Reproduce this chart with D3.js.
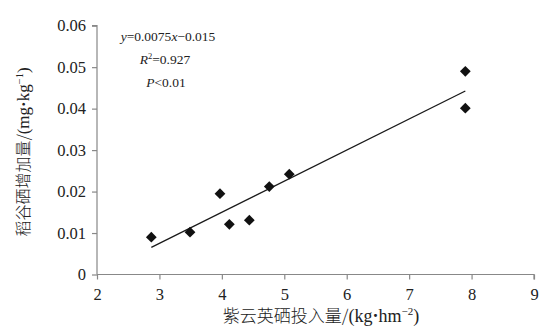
<!DOCTYPE html>
<html>
<head>
<meta charset="utf-8">
<script src="https://cdn.jsdelivr.net/npm/d3@7"></script>
<style>
  html, body { margin: 0; padding: 0; background: #fff; }
  svg { display: block; }
  .tick text { font-family: "Liberation Serif", "DejaVu Serif", serif; font-size: 16.5px; fill: #222; }
</style>
</head>
<body>
<script>
// Selenium input from Chinese milk vetch (kg/hm²) vs. rice grain Se increase (mg/kg)
const seInput    = [2.87, 3.49, 3.97, 4.12, 4.44, 4.76, 5.08, 7.90, 7.90];
const seIncrease = [0.0090, 0.0102, 0.0195, 0.0121, 0.0131, 0.0212, 0.0242, 0.0490, 0.0401];
const xTicks = [2, 3, 4, 5, 6, 7, 8, 9];
const yTicks = [0, 0.01, 0.02, 0.03, 0.04, 0.05, 0.06];
const fitSlope = 0.0075, fitIntercept = -0.015;

const W = 555, H = 329;

const svg = d3.select("body").append("svg").attr("width", W).attr("height", H);

const x = d3.scaleLinear().domain([2, 9]).range([97, 534]);
const y = d3.scaleLinear().domain([0, 0.06]).range([274.5, 25.7]);

const axisColor = "#888";

// y axis
const gy = svg.append("g").attr("transform", `translate(${x(2)},0)`)
  .call(d3.axisLeft(y).tickValues(yTicks).tickSize(5).tickPadding(6)
    .tickFormat(d => d === 0 ? "0" : d3.format(".2f")(d)));
gy.selectAll("path, line").attr("stroke", axisColor).attr("stroke-width", 1.2);
gy.select(".domain").attr("d", `M-5,${y(0.06)}H0V${y(0)}`);

// x axis
const gx = svg.append("g").attr("transform", `translate(0,${y(0)})`)
  .call(d3.axisBottom(x).tickValues(xTicks).tickSize(5).tickPadding(6).tickFormat(d3.format("d")));
gx.selectAll("path, line").attr("stroke", axisColor).attr("stroke-width", 1.2);
gx.select(".domain").attr("d", `M${x(2)},0H${x(9)}V5`);
gx.selectAll(".tick text").attr("dy", "0.85em");

// fitted line over the observed range
const xmin = d3.min(seInput), xmax = d3.max(seInput);
svg.append("line")
  .attr("x1", x(xmin)).attr("y1", y(fitSlope * xmin + fitIntercept))
  .attr("x2", x(xmax)).attr("y2", y(fitSlope * xmax + fitIntercept))
  .attr("stroke", "#1a1a1a").attr("stroke-width", 1.3);

// diamond markers
const diamond = d3.symbol().type(d3.symbolDiamond2).size(74);
svg.append("g").selectAll("path")
  .data(seInput.map((v, i) => [v, seIncrease[i]]))
  .join("path")
  .attr("d", diamond)
  .attr("transform", d => `translate(${x(d[0])},${y(d[1])})`)
  .attr("fill", "#111");

// regression annotation
const serif = '"Liberation Serif", "DejaVu Serif", serif';
const eq = svg.append("text").attr("x", 168).attr("y", 41)
  .attr("text-anchor", "middle").attr("font-family", serif).attr("font-size", 13.5).attr("fill", "#222");
eq.append("tspan").attr("font-style", "italic").text("y");
eq.append("tspan").text("=0.0075");
eq.append("tspan").attr("font-style", "italic").text("x");
eq.append("tspan").text("\u22120.015");

const r2 = svg.append("text").attr("x", 165).attr("y", 64)
  .attr("text-anchor", "middle").attr("font-family", serif).attr("font-size", 13.5).attr("fill", "#222");
r2.append("tspan").attr("font-style", "italic").text("R");
r2.append("tspan").attr("font-size", 8.5).attr("dy", -5).text("2");
r2.append("tspan").attr("dy", 5).text("=0.927");

const p = svg.append("text").attr("x", 166).attr("y", 87)
  .attr("text-anchor", "middle").attr("font-family", serif).attr("font-size", 13.5).attr("fill", "#222");
p.append("tspan").attr("font-style", "italic").text("P");
p.append("tspan").text("<0.01");

// axis titles
const cjk = '"Noto Sans CJK SC", sans-serif';
const xt = svg.append("text").attr("x", 321).attr("y", 322)
  .attr("text-anchor", "middle").attr("font-size", 17).attr("fill", "#222");
xt.append("tspan").attr("font-family", cjk).attr("font-weight", 300).text("紫云英硒投入量/");
xt.append("tspan").attr("font-family", serif).attr("font-size", 18).text("(kg");
xt.append("tspan").attr("font-family", serif).attr("font-size", 18).attr("font-weight", "bold").text("\u00b7");
xt.append("tspan").attr("font-family", serif).attr("font-size", 18).text("hm");
xt.append("tspan").attr("font-family", serif).attr("font-size", 11).attr("dy", -7).text("\u22122");
xt.append("tspan").attr("font-family", serif).attr("font-size", 18).attr("dy", 7).text(")");

const yt = svg.append("text").attr("transform", "translate(29,152) rotate(-90)")
  .attr("text-anchor", "middle").attr("font-size", 16).attr("fill", "#222");
yt.append("tspan").attr("font-family", cjk).attr("font-weight", 300).text("稻谷硒增加量/");
yt.append("tspan").attr("font-family", serif).attr("font-size", 17).text("(mg");
yt.append("tspan").attr("font-family", serif).attr("font-size", 17).attr("font-weight", "bold").text("\u00b7");
yt.append("tspan").attr("font-family", serif).attr("font-size", 17).text("kg");
yt.append("tspan").attr("font-family", serif).attr("font-size", 10.5).attr("dy", -6).text("\u22121");
yt.append("tspan").attr("font-family", serif).attr("font-size", 17).attr("dy", 6).text(")");
</script>
</body>
</html>
